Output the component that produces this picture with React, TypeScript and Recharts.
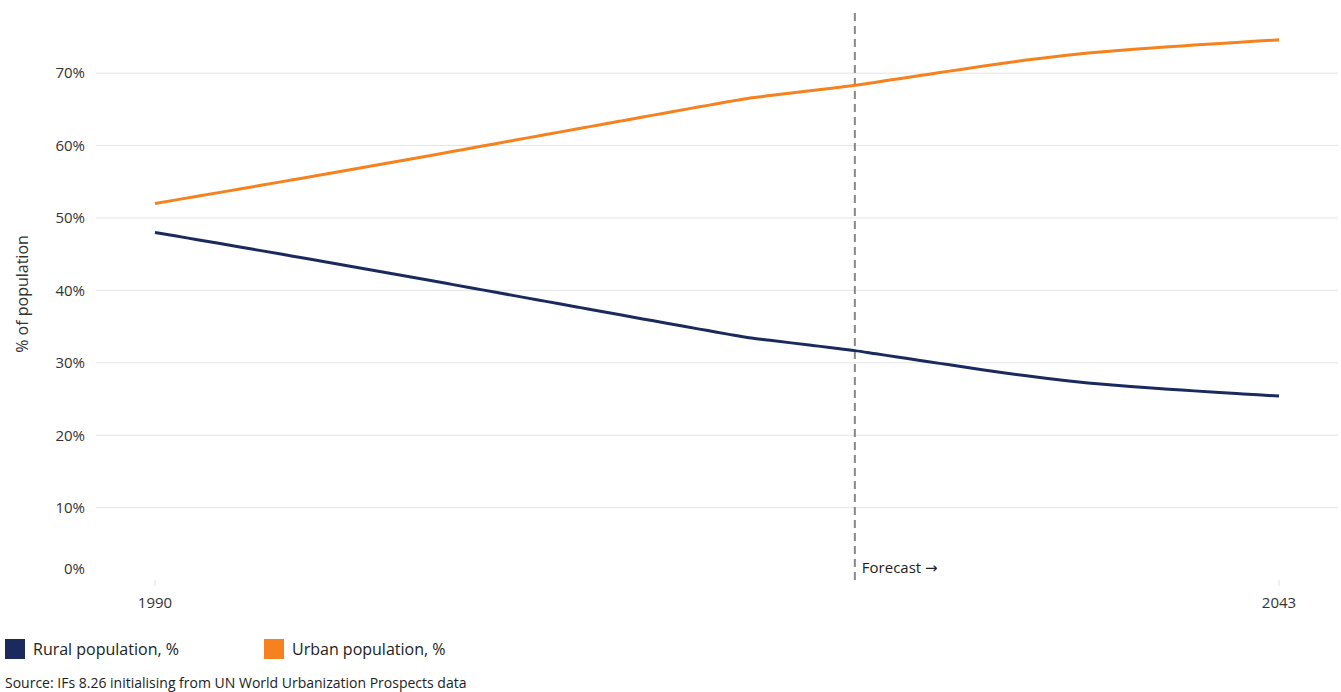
import {
  CartesianGrid,
  Line,
  LineChart,
  ReferenceLine,
  XAxis,
  YAxis,
} from "recharts";

const FONT = "'Open Sans', 'DejaVu Sans', sans-serif";
const RURAL = "#1b2a5c";
const URBAN = "#f5821f";
const TEXT = "#333333";

const years = [
  1990, 1991, 1992, 1993, 1994, 1995, 1996, 1997, 1998, 1999,
  2000, 2001, 2002, 2003, 2004, 2005, 2006, 2007, 2008, 2009,
  2010, 2011, 2012, 2013, 2014, 2015, 2016, 2017, 2018, 2019,
  2020, 2021, 2022, 2023, 2024, 2025, 2026, 2027, 2028, 2029,
  2030, 2031, 2032, 2033, 2034, 2035, 2036, 2037, 2038, 2039,
  2040, 2041, 2042, 2043,
];

const urbanPct = [
  52.0, 52.5, 53.0, 53.5, 54.0, 54.51, 55.02, 55.53, 56.04, 56.56,
  57.08, 57.6, 58.12, 58.64, 59.17, 59.7, 60.23, 60.76, 61.29, 61.82,
  62.35, 62.88, 63.41, 63.94, 64.47, 65.0, 65.52, 66.04, 66.55, 66.9,
  67.25, 67.6, 67.95, 68.32, 68.76, 69.2, 69.64, 70.08, 70.52, 70.95,
  71.37, 71.77, 72.14, 72.48, 72.78, 73.04, 73.27, 73.48, 73.68, 73.88,
  74.07, 74.25, 74.43, 74.6,
];

const ruralPct = [
  48.0, 47.5, 47.0, 46.5, 46.0, 45.49, 44.98, 44.47, 43.96, 43.44,
  42.92, 42.4, 41.88, 41.36, 40.83, 40.3, 39.77, 39.24, 38.71, 38.18,
  37.65, 37.12, 36.59, 36.06, 35.53, 35.0, 34.48, 33.96, 33.45, 33.1,
  32.75, 32.4, 32.05, 31.68, 31.24, 30.8, 30.36, 29.92, 29.48, 29.05,
  28.63, 28.23, 27.86, 27.52, 27.22, 26.96, 26.73, 26.52, 26.32, 26.12,
  25.93, 25.75, 25.57, 25.4,
];

const xTicks = [1990, 2043];
const yTicks = [0, 10, 20, 30, 40, 50, 60, 70];
const gridValues = [10, 20, 30, 40, 50, 60, 70];
const forecastYear = 2023;

const data = years.map((year, i) => ({
  year,
  rural: ruralPct[i],
  urban: urbanPct[i],
}));

function YTick({ x, y, payload }: any) {
  // the 0% label sits a little above its line
  const shift = payload.value === 0 ? -11 : 0;
  return (
    <text
      x={x}
      y={y + shift}
      dy="0.355em"
      textAnchor="end"
      fill={TEXT}
      fontSize={15}
      fontFamily={FONT}
    >
      {`${payload.value}%`}
    </text>
  );
}

function AxisTitle({ viewBox }: any) {
  const cy = viewBox.y + viewBox.height / 2;
  return (
    <text
      x={22}
      y={cy}
      transform={`rotate(-90, 22, ${cy})`}
      textAnchor="middle"
      dominantBaseline="central"
      fill={TEXT}
      fontSize={16}
      fontFamily={FONT}
    >
      % of population
    </text>
  );
}

export default function App() {
  return (
    <div
      style={{
        position: "absolute",
        left: 0,
        top: 0,
        width: 1341,
        height: 692,
        background: "#fff",
        fontFamily: FONT,
      }}
    >
      <LineChart
        width={1341}
        height={620}
        data={data}
        margin={{ top: 8, right: 3, left: 0, bottom: 10 }}
      >
        <CartesianGrid
          vertical={false}
          stroke="#e4e4e4"
          horizontalValues={gridValues}
        />
        <XAxis
          dataKey="year"
          type="number"
          domain={[1990, 2043]}
          ticks={xTicks}
          padding={{ left: 59, right: 59 }}
          axisLine={false}
          tickLine={{ stroke: "#e0e0e0" }}
          tickSize={6}
          tickMargin={11}
          height={30}
          tick={{ fill: TEXT, fontSize: 15, fontFamily: FONT }}
        />
        <YAxis
          type="number"
          domain={[0, 79]}
          ticks={yTicks}
          width={96}
          axisLine={false}
          tickLine={false}
          tickSize={0}
          tickMargin={11}
          tick={<YTick />}
          label={{ content: <AxisTitle /> }}
        />
        <ReferenceLine
          x={forecastYear}
          stroke="#888888"
          strokeWidth={2}
          strokeDasharray="8 5"
          label={{
            value: "Forecast \u2192",
            position: "insideBottomLeft",
            offset: 7,
            fill: "#222",
            fontSize: 15,
            fontFamily: FONT,
          }}
        />
        <Line
          type="monotone"
          dataKey="rural"
          stroke={RURAL}
          strokeWidth={3}
          dot={false}
          isAnimationActive={false}
        />
        <Line
          type="monotone"
          dataKey="urban"
          stroke={URBAN}
          strokeWidth={3}
          dot={false}
          isAnimationActive={false}
        />
      </LineChart>

      <div
        style={{
          position: "absolute",
          left: 5,
          top: 638,
          display: "flex",
          alignItems: "center",
          fontSize: 16,
          color: "#222",
        }}
      >
        <span style={{ width: 20, height: 20, background: RURAL, display: "inline-block" }} />
        <span style={{ marginLeft: 8, width: 231 }}>Rural population, %</span>
        <span style={{ width: 20, height: 20, background: URBAN, display: "inline-block" }} />
        <span style={{ marginLeft: 8 }}>Urban population, %</span>
      </div>

      <div
        style={{
          position: "absolute",
          left: 5,
          top: 673,
          fontSize: 14,
          color: "#222",
        }}
      >
        Source: IFs 8.26 initialising from UN World Urbanization Prospects data
      </div>
    </div>
  );
}
